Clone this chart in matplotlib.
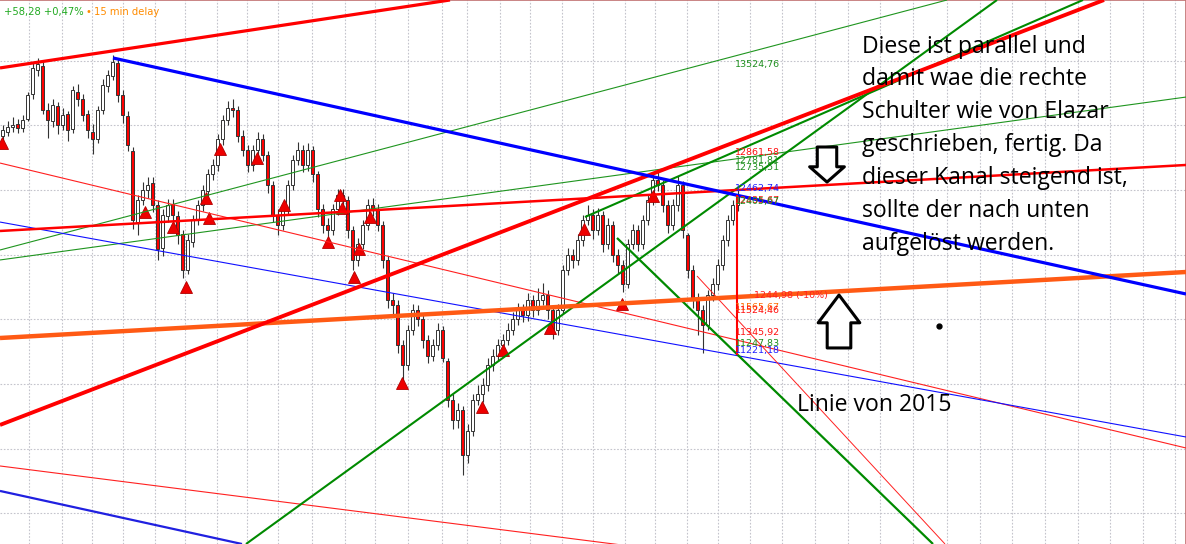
# Chart-Screenshot: Kerzen mit Trendlinien und Kommentar
import matplotlib
matplotlib.use("Agg")
from matplotlib import pyplot as plt

# Kerzen (Open/High/Low/Close), ein Wert je Balken
opens = [12920, 12950, 12990, 13010, 12980, 13050, 13240, 13430, 13460, 13120,
         13030, 13150, 13000, 13090, 12970, 13260, 13200, 13090, 12950, 12890,
         13120, 13300, 13380, 13480, 13230, 13070, 12800, 12250, 12420, 12500,
         12550, 12380, 12050, 12300, 12390, 12300, 12160, 11880, 12100, 12270,
         12380, 12490, 12620, 12690, 12890, 13040, 13130, 13120, 12920, 12810,
         12690, 12810, 12890, 12770, 12540, 12310, 12230, 12350, 12540, 12730,
         12810, 12690, 12810, 12620, 12350, 12230, 12190, 12350, 12460, 12420,
         12190, 11960, 12080, 12230, 12380, 12350, 12230, 11960, 11650, 11610,
         11300, 11150, 11420, 11570, 11500, 11340, 11220, 11300, 11420, 11180,
         10880, 10720, 10800, 10450, 10640, 10880, 10920, 10990, 11150, 11220,
         11300, 11340, 11420, 11500, 11570, 11530, 11650, 11570, 11650, 11690,
         11570, 11420, 11570, 11880, 12000, 11960, 12110, 12270, 12310, 12190,
         12310, 12080, 12230, 12000, 11920, 11770, 12080, 12190, 12080, 12270,
         12420, 12580, 12540, 12380, 12230, 12380, 12540, 12150, 11880, 11650,
         11570, 11460, 11690, 11770, 11920, 12110, 12270, 12380]
highs = [13000, 13030, 13060, 13050, 13080, 13260, 13480, 13520, 13490, 13170,
         13200, 13180, 13130, 13110, 13300, 13320, 13240, 13120, 13010, 13150,
         13360, 13430, 13540, 13510, 13270, 13110, 12830, 12460, 12560, 12600,
         12600, 12420, 12350, 12430, 12430, 12340, 12190, 12160, 12310, 12420,
         12540, 12660, 12740, 12930, 13080, 13190, 13200, 13150, 12960, 12850,
         12850, 12950, 12930, 12800, 12570, 12350, 12390, 12580, 12770, 12870,
         12850, 12860, 12840, 12650, 12390, 12280, 12390, 12510, 12510, 12450,
         12220, 12130, 12270, 12430, 12440, 12390, 12260, 11990, 11700, 11650,
         11340, 11460, 11620, 11610, 11540, 11380, 11350, 11470, 11450, 11200,
         10920, 10850, 10830, 10690, 10920, 10990, 11050, 11200, 11270, 11350,
         11390, 11470, 11560, 11630, 11620, 11700, 11690, 11740, 11780, 11730,
         11600, 11620, 11920, 12050, 12040, 12160, 12310, 12380, 12350, 12360,
         12340, 12280, 12260, 12040, 11960, 12120, 12240, 12230, 12310, 12470,
         12640, 12650, 12580, 12420, 12430, 12610, 12570, 12170, 11920, 11700,
         11610, 11730, 11820, 11970, 12150, 12310, 12420, 12500]
lows = [12880, 12920, 12950, 12940, 12950, 13030, 13200, 13380, 13090, 12900,
        12990, 12930, 12960, 12880, 12940, 13150, 13030, 12900, 12780, 12860,
        13090, 13260, 13350, 13180, 13020, 12800, 12200, 12150, 12380, 12440,
        12330, 11960, 11990, 12250, 12240, 12080, 11820, 11850, 12060, 12230,
        12340, 12450, 12580, 12650, 12850, 13000, 13060, 12870, 12760, 12640,
        12650, 12770, 12720, 12480, 12250, 12150, 12190, 12310, 12500, 12690,
        12640, 12650, 12560, 12290, 12170, 12100, 12150, 12310, 12370, 12130,
        11880, 11910, 12040, 12190, 12300, 12180, 11900, 11590, 11540, 11240,
        11010, 11110, 11380, 11450, 11280, 11160, 11180, 11260, 11170, 10820,
        10650, 10660, 10300, 10390, 10600, 10840, 10860, 10950, 11100, 11180,
        11250, 11300, 11380, 11460, 11480, 11490, 11520, 11530, 11610, 11500,
        11350, 11380, 11540, 11840, 11900, 11920, 12070, 12230, 12120, 12150,
        12020, 12040, 11940, 11860, 11710, 11740, 12040, 12030, 12040, 12230,
        12380, 12490, 12330, 12170, 12190, 12340, 12130, 11820, 11590, 11380,
        11240, 11420, 11640, 11730, 11880, 12070, 12230, 12340]
closes = [12960, 12990, 13000, 12980, 13040, 13230, 13440, 13470, 13120, 13040,
          13160, 13000, 13080, 12960, 13270, 13200, 13080, 12960, 12890, 13120,
          13310, 13390, 13490, 13230, 13080, 12850, 12270, 12420, 12500, 12540,
          12380, 12040, 12310, 12380, 12310, 12150, 11880, 12110, 12270, 12380,
          12500, 12620, 12690, 12890, 13040, 13130, 13120, 12920, 12810, 12690,
          12810, 12890, 12770, 12540, 12310, 12230, 12350, 12540, 12730, 12810,
          12690, 12810, 12620, 12350, 12230, 12190, 12350, 12460, 12420, 12190,
          11960, 12080, 12230, 12380, 12350, 12230, 11960, 11650, 11610, 11300,
          11150, 11420, 11570, 11500, 11340, 11220, 11300, 11420, 11200, 10880,
          10720, 10800, 10450, 10640, 10880, 10920, 10990, 11150, 11220, 11300,
          11340, 11420, 11500, 11570, 11530, 11650, 11570, 11650, 11690, 11570,
          11420, 11570, 11880, 12000, 11960, 12110, 12270, 12310, 12190, 12310,
          12080, 12230, 12000, 11920, 11770, 12080, 12190, 12080, 12270, 12420,
          12580, 12540, 12380, 12230, 12380, 12540, 12190, 11880, 11650, 11570,
          11460, 11690, 11770, 11920, 12110, 12270, 12380, 12460]

# rote Signal-Dreiecke (Balken, Kurs)
signal_x = [-0.1, 28.5, 34.1, 36.7, 40.7, 41.3, 43.5, 50.9, 56.3, 65.1, 67.5,
            67.9, 70.3, 71.3, 73.5, 79.9, 95.9, 100.1, 109.5, 116.3, 123.9, 130.1]
signal_y = [12860, 12330, 12210, 11750, 12440, 12280, 12820, 12750, 12380, 12100,
            12460, 12360, 11830, 12040, 12290, 11010, 10820, 11260, 11430, 12200,
            11620, 12450]

# Trendlinien: (x1, y1, x2, y2), Farbe, Breite
trend_lines = [
    ((-0.5, 12036, 188.9, 13968), "#1f951f", 0.8),
    ((-0.5, 11959, 236.7, 13218), "#1f951f", 0.8),
    ((-0.5, 12708, 236.7, 10506), "#ff2020", 0.8),
    ((-0.5, 12252, 236.7, 10591), "#1010ff", 0.8),
    ((-0.5, 10367, 123.9, 9756), "#ff2020", 0.8),
    ((-0.5, 10174, 47.9, 9764), "#2020e0", 1.6),
    ((138.9, 11835, 188.5, 9764), "#ff2020", 0.7),
    ((48.7, 9764, 198.9, 13968), "#008a00", 1.5),
    ((116.5, 12291, 216.1, 13968), "#008a00", 1.5),
    ((122.9, 12129, 186.1, 9764), "#008a00", 1.6),
    ((-0.5, 12183, 236.7, 12693), "#ff0000", 1.8),
    ((-0.5, 11356, 236.7, 11866), "#ff5a14", 3.2),
    ((-0.5, 10684, 220.3, 13968), "#ff0000", 2.8),
    ((-0.5, 13443, 89.5, 13968), "#ff0000", 2.3),
    ((22.1, 13520, 236.7, 11696), "#0000ff", 2.3),
    ((146.9, 12461, 146.9, 11225), "#ff0000", 1.5),
]

# Kursmarken am rechten Rand der Kerzen
mark_texts = ["13524,76", "12861,58", "12781,81", "12735,51", "12462,74",
              "12435,67", "12405,67", "11565,67", "11524,46", "11345,92",
              "11247,83", "11221,18"]
mark_y = [13466, 12793, 12724, 12670, 12515, 12415, 12412, 11595, 11572, 11402,
          11310, 11263]
mark_colors = ["#1f8f1f", "#ff1010", "#1f8f1f", "#1f8f1f", "#2020ff", "#ff1010",
               "#1f8f1f", "#ff6a00", "#ff1010", "#ff1010", "#1f8f1f", "#2020ff"]

grid_x = [5.3, 11.9, 17.9, 24.1, 30.5, 36.5, 42.9, 48.9, 55.1, 61.9, 68.5, 74.5,
          81.1, 87.9, 92.9, 99.5, 105.5, 111.9, 118.1, 124.5, 130.5, 136.9, 143.1,
          149.5, 155.9, 162.5, 169.1, 175.5, 182.1, 188.9, 195.5, 201.9, 208.5,
          215.1, 221.5, 228.1, 234.5]
grid_y = [10000, 10500, 11000, 11500, 12000, 12500, 13000, 13500]

fig = plt.figure(figsize=(11.86, 5.44), dpi=100)
ax = fig.add_axes([0, 0, 1, 1])
ax.set_xlim(-0.5, 236.7)
ax.set_ylim(9764, 13968)
ax.set_xticks([])
ax.set_yticks([])
for s in ["left", "bottom"]:
    ax.spines[s].set_visible(False)
for s in ["top", "right"]:
    ax.spines[s].set_color("#c07070")
    ax.spines[s].set_linewidth(1.2)

# Gitter
for gx in grid_x:
    ax.axvline(gx, color="#c4c4cc", lw=0.8, ls=(0, (1.5, 1.5)), zorder=0)
for gy in grid_y:
    ax.axhline(gy, color="#c4c4cc", lw=0.8, ls=(0, (1.5, 1.5)), zorder=0)

# Kerzen
idx = list(range(len(closes)))
ax.vlines(idx, lows, highs, color="#333333", lw=0.8, zorder=2)
bottoms = [min(o, c) for o, c in zip(opens, closes)]
heights = [max(abs(c - o), 8) for o, c in zip(opens, closes)]
faces = ["white" if c >= o else "#ff0000" for o, c in zip(opens, closes)]
ax.bar(idx, heights, bottom=bottoms, width=0.62, color=faces,
       edgecolor="#333333", linewidth=0.7, zorder=3)

ax.plot(signal_x, signal_y, "^", color="#ee0000", mec="#b00000", ms=8, mew=0.6,
        zorder=4, ls="none")

# Linien
for (x1, y1, x2, y2), col, lw in trend_lines:
    ax.plot([x1, x2], [y1, y2], color=col, lw=lw, zorder=5,
            solid_capstyle="butt")

for t, y, c in zip(mark_texts, mark_y, mark_colors):
    ax.text(146.4, y, t, color=c, fontsize=6.8, va="center", ha="left", zorder=6)
ax.text(150.2, 11681, "1244,98 (-10%)", color="#ff2020", fontsize=6.8,
        va="center", ha="left", zorder=6)

# Kopfzeile
ax.text(0.003, 0.978, "+58,28 +0,47%", transform=ax.transAxes, color="#22aa22",
        fontsize=7.2, va="center", ha="left")
ax.text(0.072, 0.978, "•", transform=ax.transAxes, color="#ff8c00",
        fontsize=7.2, va="center", ha="left")
ax.text(0.079, 0.978, "15 min delay", transform=ax.transAxes, color="#ff8c00",
        fontsize=7.2, va="center", ha="left")

# Pfeile
ax.annotate("", xy=(164.9, 12561), xytext=(164.9, 12832),
            arrowprops=dict(arrowstyle="simple,head_length=0.55,head_width=1.25,tail_width=0.7",
                            fc="white", ec="black", lw=2.2, shrinkA=0, shrinkB=0,
                            mutation_scale=20), zorder=7)
ax.annotate("", xy=(167.3, 11688), xytext=(167.3, 11279),
            arrowprops=dict(arrowstyle="simple,head_length=1.0,head_width=1.5,tail_width=0.85",
                            fc="white", ec="black", lw=2.2, shrinkA=0, shrinkB=0,
                            mutation_scale=20), zorder=7)
ax.plot([187.3], [11449], "o", color="black", ms=3.5, zorder=7)

# Kommentar
comment = ("Diese ist parallel und\ndamit wae die rechte\nSchulter wie von Elazar\n"
           "geschrieben, fertig. Da\ndieser Kanal steigend ist,\n"
           "sollte der nach unten\naufgelöst werden.")
ax.text(171.9, 13700, comment, fontsize=16.6, family="Open Sans", va="top",
        ha="left", linespacing=1.49, color="black", zorder=8)
ax.text(158.9, 10838, "Linie von 2015", fontsize=16.6, family="Open Sans",
        va="center", ha="left", color="black", zorder=8)

plt.savefig("out.png", dpi=100)
